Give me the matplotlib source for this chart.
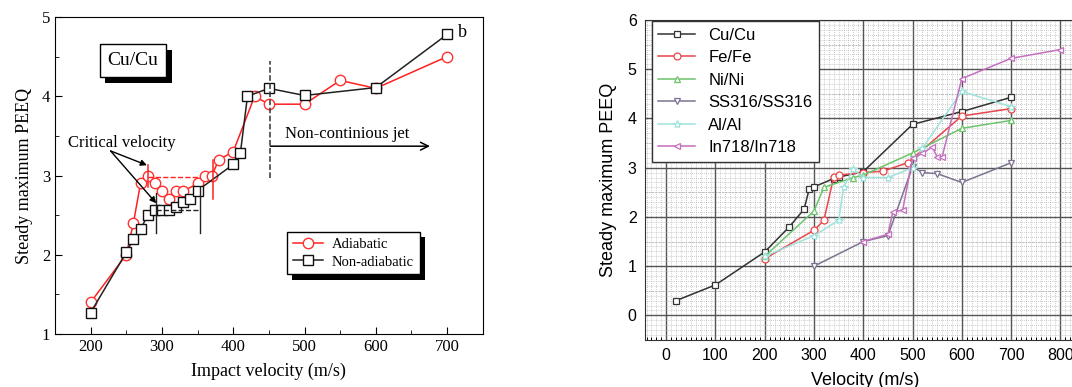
import numpy as np
import matplotlib
matplotlib.use('Agg')
import matplotlib.pyplot as plt
from matplotlib import patheffects as pe
from matplotlib.ticker import MultipleLocator

# ---- left panel: Cu/Cu adiabatic vs non-adiabatic
V_AD = [200, 250, 260, 270, 280, 290, 300, 310, 320, 330, 350, 360, 370, 380,
        400, 430, 450, 500, 550, 600, 700]
P_AD = [1.40, 2.00, 2.40, 2.90, 3.00, 2.90, 2.80, 2.70, 2.80, 2.80, 2.90, 3.00,
        3.00, 3.20, 3.30, 4.00, 3.90, 3.90, 4.20, 4.10, 4.50]
V_NA = [200, 250, 260, 270, 280, 290, 300, 310, 320, 330, 340, 350, 400, 410,
        420, 450, 500, 600, 700]
P_NA = [1.27, 2.03, 2.20, 2.32, 2.50, 2.56, 2.57, 2.56, 2.60, 2.66, 2.70, 2.81,
        3.14, 3.28, 4.00, 4.10, 4.01, 4.11, 4.78]

# ---- right panel: materials
V_CU = [20, 100, 200, 250, 280, 290, 300, 340, 350, 400, 500, 600, 700]
P_CU = [0.30, 0.62, 1.29, 1.80, 2.16, 2.56, 2.61, 2.78, 2.81, 2.92, 3.88, 4.14, 4.43]
V_FE = [200, 300, 320, 340, 350, 400, 440, 490, 600, 700]
P_FE = [1.15, 1.73, 1.93, 2.81, 2.85, 2.90, 2.93, 3.10, 4.05, 4.20]
V_NI = [200, 300, 320, 380, 400, 500, 600, 700]
P_NI = [1.20, 2.12, 2.60, 2.80, 2.85, 3.30, 3.80, 3.96]
V_SS = [300, 400, 450, 500, 520, 550, 600, 700]
P_SS = [1.00, 1.50, 1.62, 3.02, 2.90, 2.88, 2.70, 3.10]
V_AL = [200, 300, 350, 360, 380, 400, 450, 500, 520, 600, 700]
P_AL = [1.20, 1.62, 1.93, 2.60, 2.97, 2.80, 2.80, 3.00, 3.40, 4.55, 4.24]
V_IN = [400, 450, 460, 480, 500, 520, 540, 550, 560, 600, 700, 800]
P_IN = [1.50, 1.65, 2.10, 2.14, 3.19, 3.29, 3.42, 3.22, 3.22, 4.81, 5.22, 5.40]

SERIES = [('Cu/Cu', V_CU, P_CU, 's', '#333333'),
          ('Fe/Fe', V_FE, P_FE, 'o', '#e8474a'),
          ('Ni/Ni', V_NI, P_NI, '^', '#6cc46c'),
          ('SS316/SS316', V_SS, P_SS, 'v', '#7d7390'),
          ('Al/Al', V_AL, P_AL, '*', '#9fe3dc'),
          ('In718/In718', V_IN, P_IN, '<', '#c46fbf')]

fig = plt.figure(figsize=(10.72, 3.87), dpi=100)

# ================= left =================
serif = 'Liberation Serif'
ax = fig.add_axes([0.0513, 0.137, 0.399, 0.819])
ax.plot(V_AD, P_AD, '-o', color='#ff2020', lw=1.1, ms=7.5, mfc='white',
        mec='#ff3030', mew=1.0, label='Adiabatic')
ax.plot(V_NA, P_NA, '-s', color='#222222', lw=1.1, ms=6.5, mfc='white',
        mec='#111111', mew=1.0, label='Non-adiabatic')
ax.set_xlim(150, 750)
ax.set_ylim(1, 5)
ax.xaxis.set_major_locator(MultipleLocator(100))
ax.xaxis.set_minor_locator(MultipleLocator(50))
ax.yaxis.set_major_locator(MultipleLocator(1))
ax.yaxis.set_minor_locator(MultipleLocator(0.5))
ax.tick_params(which='both', direction='in', top=False, right=False)
ax.tick_params(which='major', length=5, labelsize=12)
ax.tick_params(which='minor', length=3)
for lab in ax.get_xticklabels() + ax.get_yticklabels():
    lab.set_family(serif)
ax.set_xlabel('Impact velocity (m/s)', family=serif, fontsize=13, labelpad=6)
ax.set_ylabel('Steady maximum PEEQ', family=serif, fontsize=13, labelpad=6)

# critical velocity markers
ax.plot([280, 280], [2.85, 3.13], color='#ff2020', lw=1.1)
ax.plot([280, 352], [2.985, 2.985], '--', color='#ff2020', lw=1.0)
ax.plot([372, 372], [2.70, 3.20], color='#ff2020', lw=1.1)
ax.plot([291, 291], [2.27, 2.78], color='#222222', lw=1.0)
ax.plot([354, 354], [2.27, 2.86], color='#222222', lw=1.0)
ax.plot([291, 354], [2.56, 2.56], '--', color='#222222', lw=1.0)
ax.text(244, 3.41, 'Critical velocity', family=serif, fontsize=12,
        ha='center', va='center')
for tip in [(279, 3.13), (292, 2.65)]:
    ax.annotate('', xy=tip, xytext=(228, 3.31),
                arrowprops=dict(arrowstyle='-|>', color='black', lw=1.0,
                                mutation_scale=9, shrinkA=0, shrinkB=0))

# non-continuous jet
ax.plot([452, 452], [2.97, 4.44], '--', color='#333333', lw=1.1)
ax.annotate('', xy=(676, 3.37), xytext=(452, 3.37),
            arrowprops=dict(arrowstyle='->', color='black', lw=1.1,
                            mutation_scale=14, shrinkA=0, shrinkB=0))
ax.text(560, 3.53, 'Non-continious jet', family=serif, fontsize=12,
        ha='center', va='center')

t = ax.text(0.182, 0.862, 'Cu/Cu', transform=ax.transAxes, family=serif,
            fontsize=14, ha='center', va='center',
            bbox=dict(boxstyle='square,pad=0.4', fc='white', ec='black', lw=1.0))
t.get_bbox_patch().set_path_effects(
    [pe.SimplePatchShadow(offset=(4, -4), shadow_rgbFace='black', alpha=1),
     pe.Normal()])
ax.text(722, 4.8, 'b', family=serif, fontsize=13, ha='center', va='center')

leg = ax.legend(loc='lower right', bbox_to_anchor=(0.87, 0.165),
                prop=dict(family=serif, size=10.5), fancybox=False,
                edgecolor='black', framealpha=1, handlelength=2.1,
                labelspacing=0.3, borderpad=0.4, handletextpad=0.6)
leg.get_frame().set_linewidth(1.0)
leg.get_frame().set_path_effects(
    [pe.SimplePatchShadow(offset=(4, -4), shadow_rgbFace='black', alpha=1),
     pe.Normal()])

# ================= right =================
sans = 'Liberation Sans'
ax2 = fig.add_axes([0.6017, 0.1214, 0.4104, 0.8269])
ax2.set_xlim(-43, 850)
ax2.set_ylim(-0.5, 6)
ax2.xaxis.set_major_locator(MultipleLocator(100))
ax2.xaxis.set_minor_locator(MultipleLocator(10))
ax2.yaxis.set_major_locator(MultipleLocator(1))
ax2.yaxis.set_minor_locator(MultipleLocator(0.1))
ax2.grid(which='major', color='#555555', lw=1.0)
ax2.grid(which='minor', color='#b0b0b0', lw=0.55, ls=':')
for yh in np.arange(0.5, 6, 1.0):
    ax2.axhline(yh, color='#b0b0b0', lw=0.6, dashes=(2, 2), zorder=0.5)
ax2.set_axisbelow(True)
ax2.tick_params(which='both', direction='in', top=False, right=False)
ax2.tick_params(which='major', length=0, labelsize=11.5, pad=6)
ax2.tick_params(which='minor', length=2.5, width=0.7)
ax2.tick_params(axis='y', which='minor', length=0)
for lab in ax2.get_xticklabels() + ax2.get_yticklabels():
    lab.set_family(sans)
for sp in ax2.spines.values():
    sp.set_color('#333333')

for name, v, p, m, c in SERIES:
    ax2.plot(v, p, '-', marker=m, color=c, lw=1.1, ms=6 if m == '*' else 5,
             mfc='white', mec=c, mew=0.9, label=name)

ax2.set_xlabel('Velocity (m/s)', family=sans, fontsize=13, labelpad=6)
ax2.set_ylabel('Steady maximum PEEQ', family=sans, fontsize=13, labelpad=8)
leg2 = ax2.legend(loc='upper left', bbox_to_anchor=(0.015, 0.997),
                  prop=dict(family=sans, size=12), fancybox=False,
                  edgecolor='#333333', framealpha=1, handlelength=2.2,
                  labelspacing=0.45, borderpad=0.4, borderaxespad=0)

fig.savefig('out.png', dpi=100)
